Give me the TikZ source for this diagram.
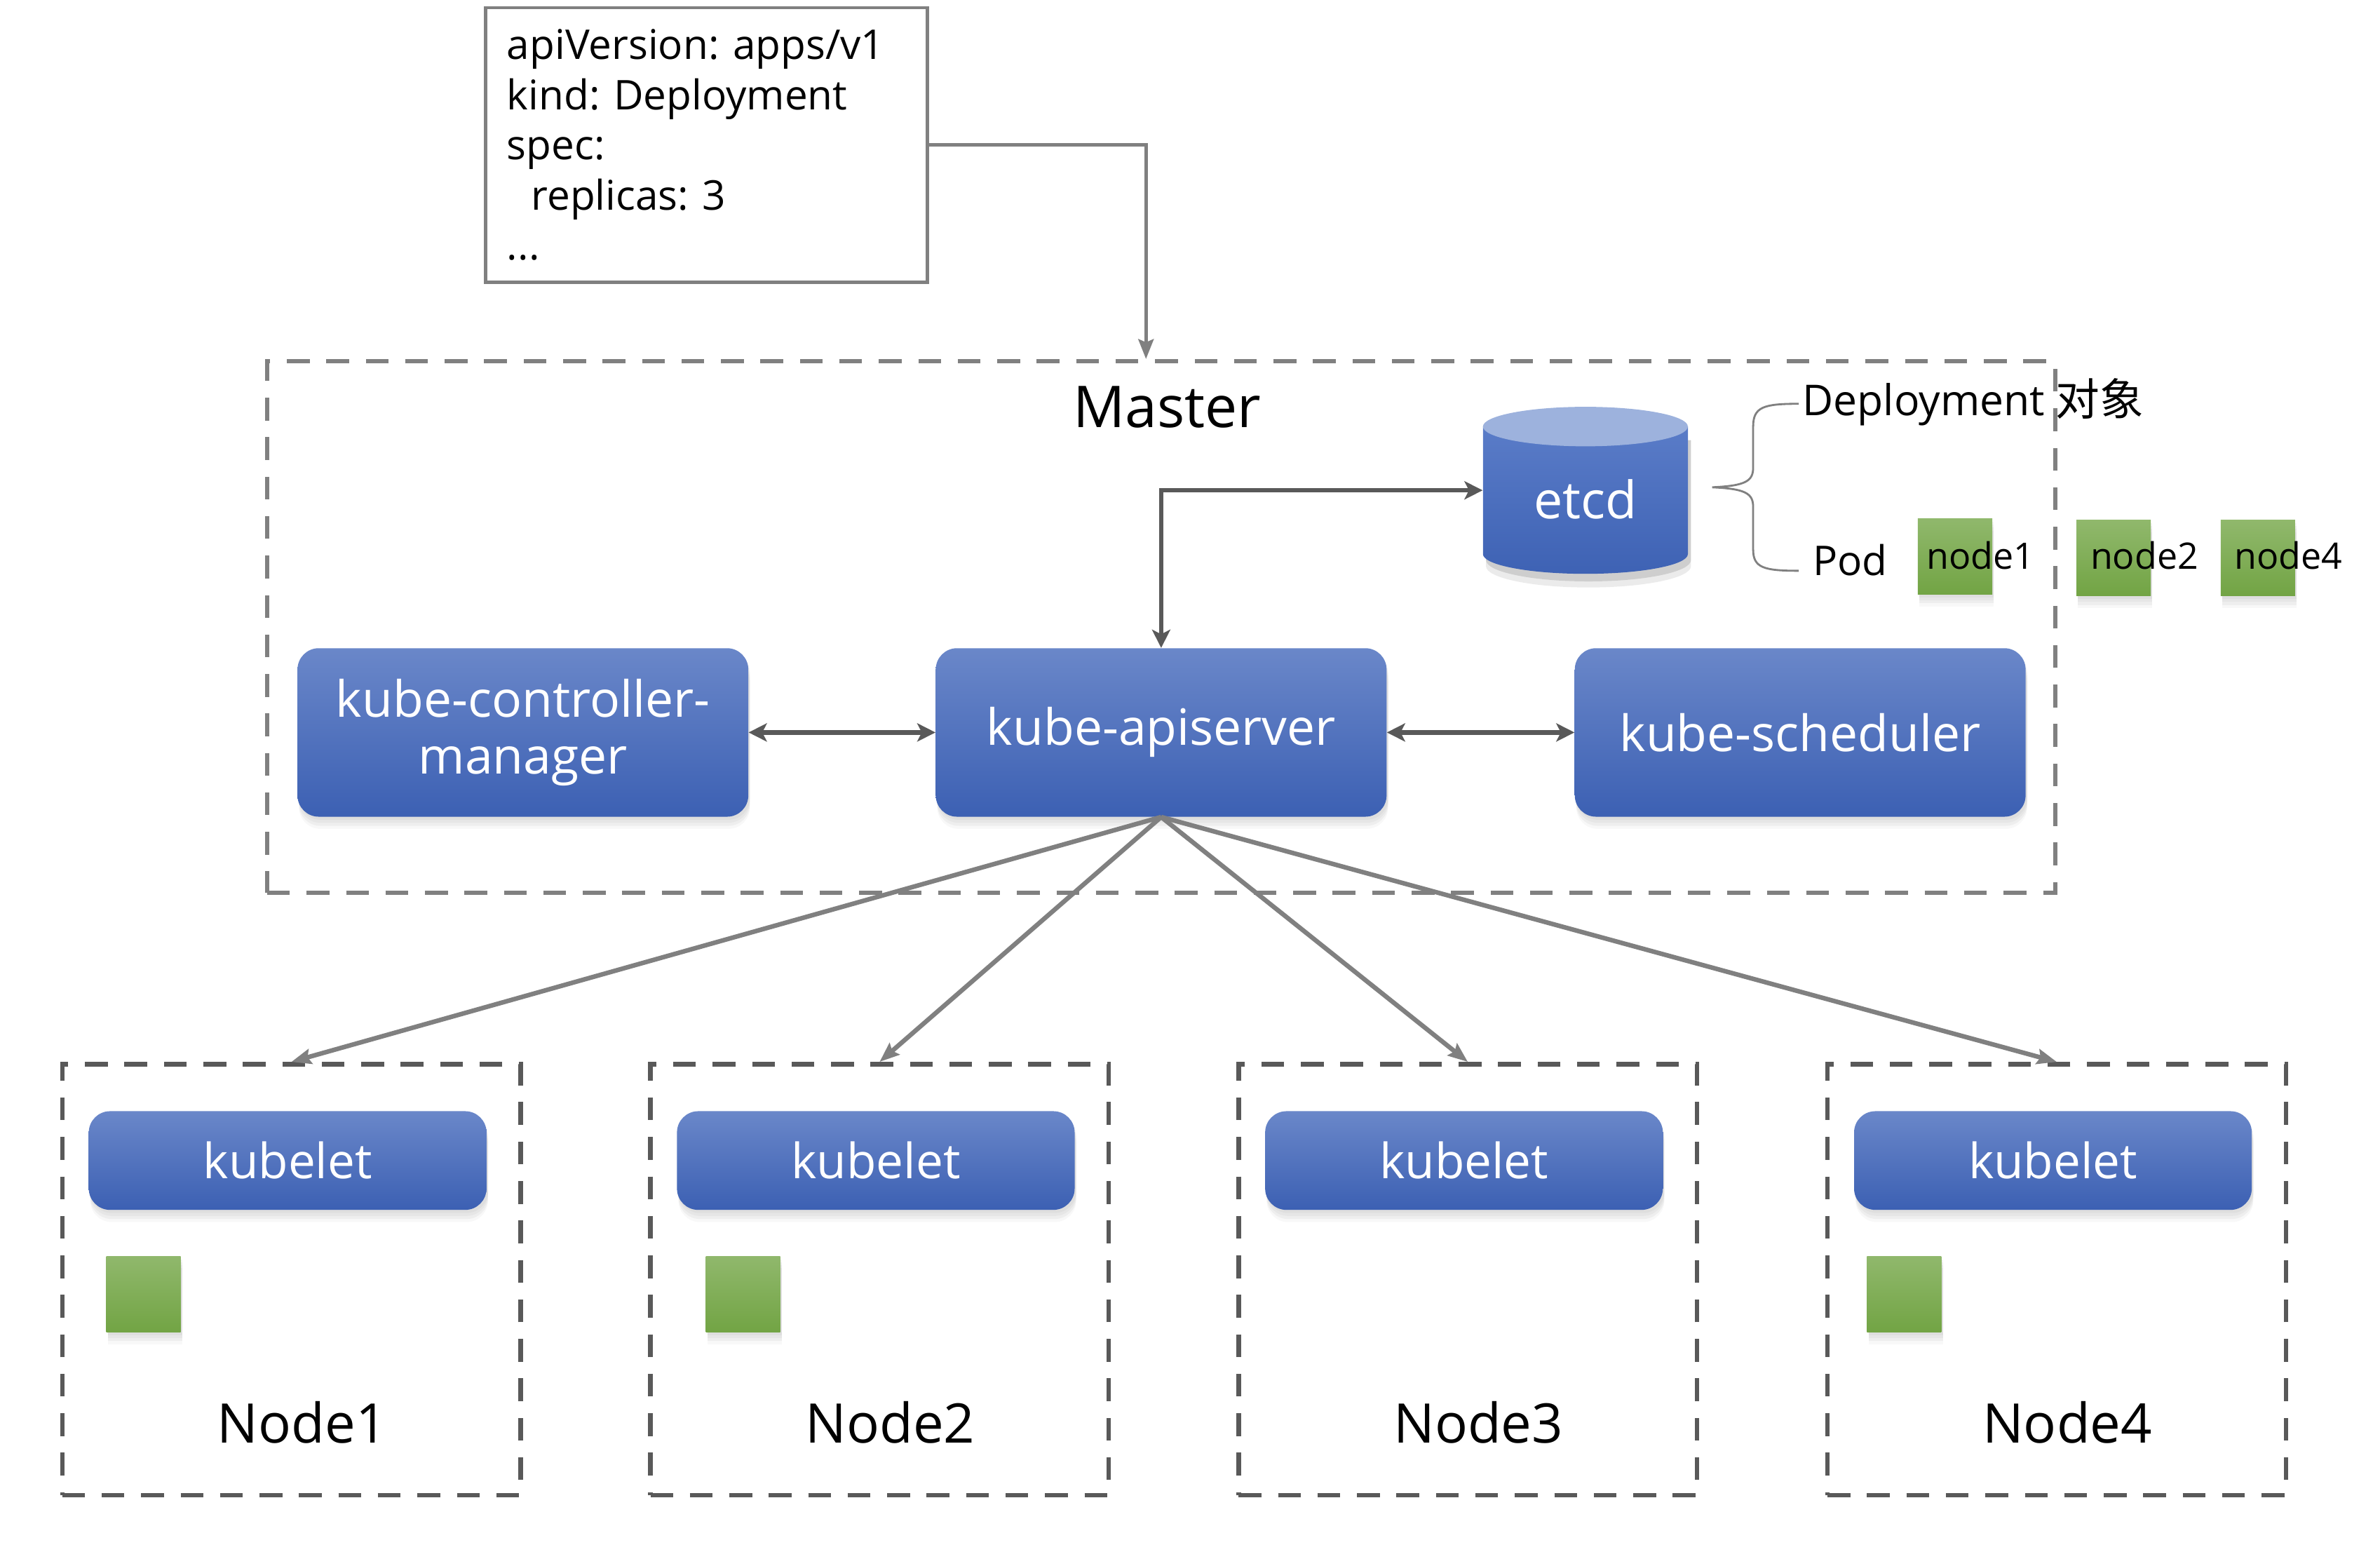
\documentclass[tikz,border=0pt]{standalone}
\usepackage{fontspec}
\setmainfont{Open Sans}
\newfontfamily\cjk{Noto Sans CJK SC}
\usepackage{tikz}
\usetikzlibrary{arrows.meta,positioning,shadows}
\usepackage{xcolor}
\frenchspacing
\definecolor{boxtop}{HTML}{6A87C9}
\definecolor{boxbot}{HTML}{3C60B3}
\definecolor{podtop}{HTML}{90B86C}
\definecolor{podbot}{HTML}{72A444}
\definecolor{etcdtop}{HTML}{9DB2DD}
\definecolor{etcdhi}{HTML}{5A7CC8}
\definecolor{etcdlo}{HTML}{3E62B4}
\definecolor{linegray}{HTML}{808080}
\definecolor{edgedark}{HTML}{595959}

\begin{document}
\begin{tikzpicture}[x=1pt,y=1pt,
    soft/.style={drop shadow={shadow xshift=1pt, shadow yshift=-2pt, opacity=0.08},
        drop shadow={shadow xshift=1pt, shadow yshift=-4pt, opacity=0.08},
        drop shadow={shadow xshift=1pt, shadow yshift=-6pt, opacity=0.08},
        drop shadow={shadow xshift=1pt, shadow yshift=-8pt, opacity=0.06}},
    comp/.style={draw=none, rounded corners=14pt, top color=boxtop, bottom color=boxbot, text=white, align=center,
        font=\fontsize{33}{37}\selectfont, minimum width=297pt, minimum height=111pt, soft},
    kubelet/.style={comp, minimum width=262pt, minimum height=65pt, font=\fontsize{32}{36}\selectfont},
    pod/.style={draw=none, top color=podtop, bottom color=podbot, minimum width=49pt, minimum height=50pt, inner sep=0pt, soft},
    hostbox/.style={draw=edgedark, line width=3pt, dash pattern=on 15pt off 11pt, minimum width=302pt, minimum height=284pt},
    flow/.style={-{Stealth[length=13pt,width=10pt,inset=2pt]}, draw=linegray, line width=3pt},
    link/.style={{Stealth[length=12pt,width=12pt,inset=3pt]}-{Stealth[length=12pt,width=12pt,inset=3pt]}, draw=edgedark, line width=3pt}]

    \useasboundingbox (0,0) rectangle (1568,-1022);

    % manifest
    \node[draw=linegray, line width=2pt, minimum width=291pt, minimum height=181pt, text width=263pt, align=left,
        font=\fontsize{27}{33}\selectfont] (yaml) at (465.5,-95.5)
        {apiVersion: apps/v1\\kind: Deployment\\spec:\\\hspace*{16pt}replicas: 3\\...};

    % master
    \node[draw=linegray, line width=3pt, dash pattern=on 15pt off 11pt, minimum width=1178pt, minimum height=350pt] (master) at (765,-413) {};
    \node[font=\fontsize{38}{42}\selectfont] (mlabel) at (769,-268) {Master};

    % etcd store
    \fill[black, opacity=0.12] (979,-290) -- (979,-369) arc[start angle=180, end angle=360, x radius=67.5, y radius=14] -- (1114,-290) -- cycle;
    \fill[black, opacity=0.08] (979,-290) -- (979,-373) arc[start angle=180, end angle=360, x radius=67.5, y radius=14] -- (1114,-290) -- cycle;
    \shade[top color=etcdhi, bottom color=etcdlo] (977,-281) -- (977,-365) arc[start angle=180, end angle=360, x radius=67.5, y radius=13] -- (1112,-281) -- cycle;
    \fill[etcdtop] (1044.5,-281) ellipse [x radius=67.5, y radius=13];
    \node[text=white, font=\fontsize{34}{38}\selectfont, minimum width=135pt, minimum height=100pt] (etcd) at (1044.5,-329) {etcd};

    \draw[draw=linegray, line width=1.3pt] (1185,-266) .. controls (1162,-266) and (1155,-268) .. (1155,-281) -- (1155,-308)
        .. controls (1155,-317) and (1150,-320) .. (1128,-321)
        .. controls (1150,-322) and (1155,-325) .. (1155,-334) -- (1155,-362)
        .. controls (1155,-374) and (1162,-376) .. (1185,-376);
    \node[anchor=west, font=\fontsize{28}{32}\selectfont] (deploy) at (1184,-265) {Deployment~{\cjk\fontsize{29}{32}\selectfont 对象}};
    \node[font=\fontsize{27}{31}\selectfont] (podlabel) at (1219,-369) {Pod};

    \node[pod] (p1) at (1288,-366.5) {};
    \node[pod] (p2) at (1392.5,-367.5) {};
    \node[pod] (p4) at (1487.5,-367.5) {};
    \node[anchor=west, font=\fontsize{24}{28}\selectfont, inner sep=0pt] (p1l) at (1269,-366) {node1};
    \node[anchor=west, font=\fontsize{24}{28}\selectfont, inner sep=0pt] (p2l) at (1377,-366) {node2};
    \node[anchor=west, font=\fontsize{24}{28}\selectfont, inner sep=0pt] (p4l) at (1472,-366) {node4};

    % control plane
    \node[comp] (cm) at (344.5,-482.5) {kube-controller-\\manager};
    \node[comp] (api) at (765,-482.5) {kube-apiserver};
    \node[comp] (sched) at (1186,-482.5) {kube-scheduler};

    \draw[flow, line width=2.5pt] (yaml.east) -| ([xshift=-10pt]master.north);
    \draw[link] (api.north) |- ([yshift=6pt]etcd.west);
    \draw[link] (cm.east) -- (api.west);
    \draw[link] (api.east) -- (sched.west);

    % worker nodes
    \foreach \i/\x in {1/192, 2/579.5, 3/967, 4/1355} {
        \node[hostbox] (host\i) at (\x,-843) {};
        \node[kubelet] (kl\i) at (\x-2.5,-764.5) {kubelet};
        \node[font=\fontsize{36}{40}\selectfont] (hl\i) at (\x+7,-937) {Node\i};
        \draw[flow] (api.south) -- (host\i.north);
    }
    \node[pod] (w1) at (94.5,-852.5) {};
    \node[pod] (w2) at (489.5,-852.5) {};
    \node[pod] (w4) at (1254.5,-852.5) {};
\end{tikzpicture}
\end{document}
